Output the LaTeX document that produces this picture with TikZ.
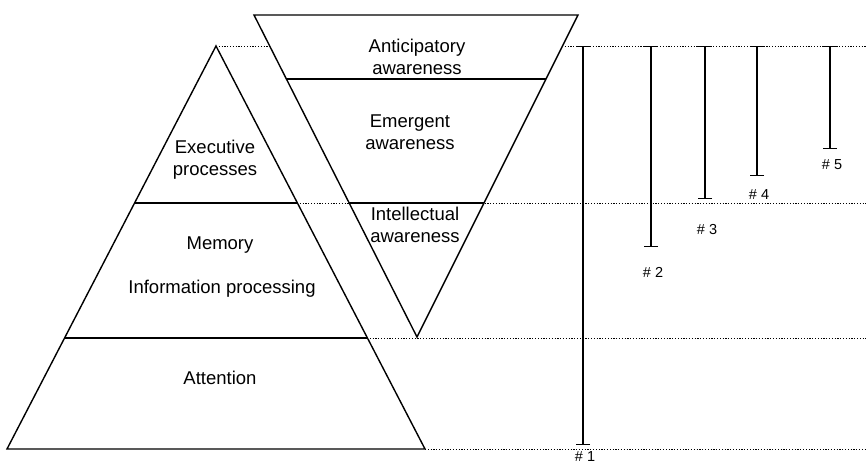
\documentclass[tikz,border=0pt]{standalone}
\usepackage{fontspec}
\setmainfont{Liberation Sans}
\usetikzlibrary{arrows.meta, positioning}

\begin{document}
\begin{tikzpicture}[
      x=1pt, y=-1pt,
      layer/.style={line width=1.4pt, line join=miter},
      guide/.style={line width=0.9pt, dash pattern=on 1.2pt off 1.6pt},
      bar/.style={line width=1.4pt, {Bar[width=14pt,line width=1.4pt]}-{Bar[width=14pt,line width=1.4pt]}},
      every node/.style={font=\fontsize{18.5}{22}\selectfont, align=center, inner sep=0pt},
      tag/.style={font=\fontsize{14.5}{17}\selectfont}
    ]
      \useasboundingbox (0,0) rectangle (866,466);
      % corners of the two triangles
      \coordinate (apex) at (216,46);
      \coordinate (baseL) at (7,449);
      \coordinate (baseR) at (425,449);
      \coordinate (topL) at (254,15);
      \coordinate (topR) at (578,15);
      \coordinate (tip) at (417,337);
      % dotted guides
      \draw[guide] (apex) -- (270,46);
      \draw[guide] (562,46) -- (866,46);
      \draw[guide] (297,203) -- (866,203);
      \draw[guide] (367,338) -- (866,338);
      \draw[guide] (baseR) -- (866,449);
      % upright pyramid
      \draw[layer] (apex) -- (baseR) -- (baseL) -- cycle;
      \draw[layer] (135,203) -- (297,203);
      \draw[layer] (65,338) -- (367,338);
      % inverted pyramid
      \draw[layer, fill=white] (topL) -- (topR) -- (tip) -- cycle;
      \draw[layer] (286,79) -- (546,79);
      \draw[layer] (349,203) -- (484,203);
      % texts
      \node (exec) at (215,160) {Executive\\processes};
      \node (mem) at (220,245) {Memory};
      \node (info) at (222,289) {Information processing};
      \node (att) at (220,378) {Attention};
      \node (antic) at (417,57) {Anticipatory\\awareness};
      \node (emerg) at (410,132) {Emergent\\awareness};
      \node (intel) at (415,225) {Intellectual\\awareness};
      % levels
      \foreach \n/\x/\y/\ly in {1/583/445/457, 2/651/247/272, 3/705/199/230, 4/757/176/195, 5/830/149/165}{
        \coordinate (t\n) at (\x,46);
        \coordinate (b\n) at (\x,\y);
        \draw[bar] (t\n) -- (b\n);
        \node[tag] (l\n) at (\x+2,\ly) {\# \n};
      }
    \end{tikzpicture}
\end{document}
